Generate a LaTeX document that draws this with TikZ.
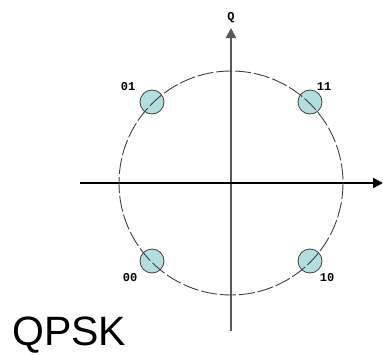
\documentclass[tikz,border=0pt]{standalone}
\usepackage{fontspec}
\setmainfont{Liberation Sans}
\newfontfamily\bitfont{Liberation Mono}
\usetikzlibrary{arrows.meta,positioning}
\definecolor{qdot}{rgb}{0.70,0.87,0.87}
\definecolor{qaxis}{rgb}{0.35,0.35,0.35}

\tikzset{
  axis/.style={line width=2pt, -{Triangle[length=10pt,width=10pt]}},
  symb/.style={circle, draw=black!75, fill=qdot, line width=0.8pt, minimum size=24pt, inner sep=0pt},
  bits/.style={font=\bitfont\bfseries\fontsize{12}{12}\selectfont, inner sep=0pt},
}

\begin{document}
\begin{tikzpicture}[x=1pt, y=-1pt]
  \useasboundingbox (0,0) rectangle (383,354);
  \coordinate (O) at (231,183);
  \coordinate (xl) at (80,183);
  \coordinate (xr) at (383,183);
  \coordinate (yb) at (231,331);
  \coordinate (yt) at (231,28);
  % axes
  \draw[axis, qaxis] (yb) -- (yt);
  \draw[axis, black] (xl) -- (xr);
  \node[bits, above=5pt of yt] (q) {Q};
  % constellation points
  \node[symb] (s01) at (152,102) {};
  \node[symb] (s11) at (310,102) {};
  \node[symb] (s00) at (152,261) {};
  \node[symb] (s10) at (310,261) {};
  \draw[black!75, line width=0.9pt, dash pattern=on 16pt off 3pt] (O) circle[radius=112];
  \node[bits] (l01) at (128,87) {01};
  \node[bits] (l11) at (324,87) {11};
  \node[bits] (l00) at (130,278) {00};
  \node[bits] (l10) at (327,278) {10};
  \node[anchor=base west, inner sep=0pt, font=\fontsize{41}{41}\selectfont] (title) at (12,345) {QPSK};
\end{tikzpicture}
\end{document}
